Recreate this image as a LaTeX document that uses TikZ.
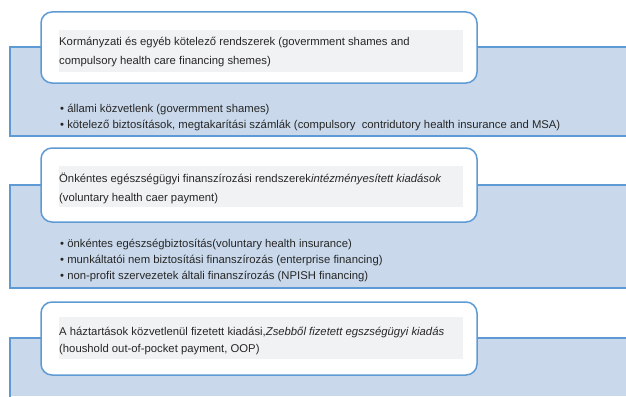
\documentclass[tikz,border=0pt]{standalone}
\usepackage{fontspec}
\setmainfont{Liberation Sans}
\definecolor{panelfill}{HTML}{C9D9EB}
\definecolor{panelline}{HTML}{5E9AD3}
\definecolor{capfill}{HTML}{F1F2F4}
\definecolor{txt}{HTML}{262626}
\tikzset{
  panel/.style={fill=panelfill},
  paneledge/.style={draw=panelline, line width=1.5pt},
  headbox/.style={draw=panelline, line width=1.5pt, fill=white, rounded corners=11pt},
  capband/.style={fill=capfill},
  line/.style={anchor=base west, inner sep=0pt, font=\fontsize{11.3}{13}\selectfont, text=txt},
}
\begin{document}
\begin{tikzpicture}[x=1pt,y=-1pt]
\useasboundingbox (0,0) rectangle (626,396);

% --- first group: compulsory schemes ---
\fill[panel] (10,47) rectangle (626,136);
\draw[paneledge] (626,47) -- (10,47) -- (10,136) -- (626,136);
\draw[headbox] (41,12) rectangle (477,83);
\fill[capband] (59,30) rectangle (463,72);
\node[line] (t1a) at (59,46) {Kormányzati és egyéb kötelező rendszerek (govermment shames and};
\node[line] (t1b) at (59,64) {compulsory health care financing shemes)};
\node[line] (b1a) at (60,112) {• állami közvetlenk (govermment shames)};
\node[line] (b1b) at (60,128) {• kötelező biztosítások, megtakarítási számlák (compulsory\ \ contridutory health insurance and MSA)};

% --- second group: voluntary schemes ---
\fill[panel] (10,185) rectangle (626,288);
\draw[paneledge] (626,185) -- (10,185) -- (10,288) -- (626,288);
\draw[headbox] (41,148) rectangle (477,222);
\fill[capband] (59,166) rectangle (463,207);
\node[line] (t2a) at (59,182) {Önkéntes egészségügyi finanszírozási rendszerek\textit{intézményesített kiadások}};
\node[line] (t2b) at (59,201) {(voluntary health caer payment)};
\node[line] (b2a) at (60,247) {• önkéntes egészségbiztosítás(voluntary health insurance)};
\node[line] (b2b) at (60,263) {• munkáltatói nem biztosítási finanszírozás (enterprise financing)};
\node[line] (b2c) at (60,279) {• non-profit szervezetek általi finanszírozás (NPISH financing)};

% --- third group: out-of-pocket ---
\fill[panel] (10,338) rectangle (626,396);
\draw[paneledge] (626,338) -- (10,338) -- (10,400);
\draw[headbox] (41,302) rectangle (477,375);
\fill[capband] (59,317) rectangle (463,359);
\node[line] (t3a) at (59,335) {A háztartások közvetlenül fizetett kiadási,\textit{Zsebből fizetett egszségügyi kiadás}};
\node[line] (t3b) at (59,352) {(houshold out-of-pocket payment, OOP)};
\end{tikzpicture}
\end{document}
